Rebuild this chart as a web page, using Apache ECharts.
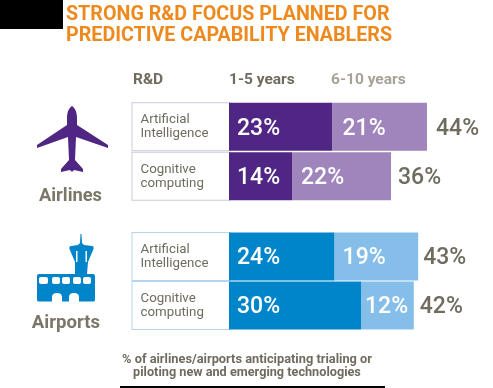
<!DOCTYPE html>
<html>
<head>
<meta charset="utf-8">
<style>
  html, body { margin: 0; padding: 0; background: #fff; }
  #chart { width: 493px; height: 388px; }
</style>
<script src="https://cdn.jsdelivr.net/npm/echarts@6/dist/echarts.min.js"></script>
</head>
<body>
<div id="chart"></div>
<script>
const categories = ['Artificial\nIntelligence', 'Cognitive\ncomputing'];
const airlinesNear = [23, 14];
const airlinesFar = [21, 22];
const airlinesTotal = [44, 36];
const airportsNear = [24, 30];
const airportsFar = [19, 12];
const airportsTotal = [43, 42];

const FONT = 'Roboto';
const TEXT = '#6f6b5f';

const planePath = 'M72 106 C69 108 67 112 67 118 L67 125 L37 145 L37 148 L68 137 L69 160 L61 169 L61 172 L70 170 L72 172 L74 170 L83 172 L83 169 L75 160 L76 137 L108 148 L108 145 L77 125 L77 118 C77 112 75 108 72 106 Z';
const towerPath = 'M80.5 234 L81.5 234 L82 243 L84 245 L92 246 Q94 246 93.5 249 L88 262 L87 274 L93 274 Q95 274 95 276 L95 300 Q95 301.5 93 301.5 L79 301.5 L79 297 Q79 293 74 293 Q69 293 69 297 L69 301.5 L62 301.5 L62 297 Q62 293 57 293 Q52 293 52 297 L52 301.5 L39 301.5 Q37 301.5 37 300 L37 276 Q37 274 39 274 L75 274 L75 262 L69.500 249 Q69 246 71 246 L78 245 L80 243 Z';
const towerWindows = [[39, 277, 9], [52, 277, 8], [62, 277, 8], [73, 277, 8], [83, 277, 8]];

echarts.graphic.registerShape('planeIcon', echarts.graphic.extendPath(planePath, {}));
echarts.graphic.registerShape('towerIcon', echarts.graphic.extendPath(towerPath, {}));

function barSeries(gridIdx, near, far, total, dark, light, farDistances, totalDistances) {
  const inside = { show: true, position: 'insideLeft', offset: [0, 2], color: '#fff', fontFamily: FONT, fontWeight: 500, fontSize: 23, formatter: '{c}%' };
  return [
    {
      type: 'bar', stack: 's' + gridIdx, xAxisIndex: gridIdx, yAxisIndex: gridIdx, barWidth: 48,
      data: near, itemStyle: { color: dark }, label: { ...inside, distance: 8 }
    },
    {
      type: 'bar', stack: 's' + gridIdx, xAxisIndex: gridIdx, yAxisIndex: gridIdx, barWidth: 48,
      data: far.map((v, i) => ({ value: v, label: { distance: farDistances[i] } })),
      itemStyle: { color: light }, label: inside
    },
    {
      // 0 width bar, only there to hold the total label
      type: 'bar', stack: 's' + gridIdx, xAxisIndex: gridIdx, yAxisIndex: gridIdx, barWidth: 48,
      data: total.map((v, i) => ({ value: 0, label: { distance: totalDistances[i] } })),
      itemStyle: { color: 'transparent' },
      label: {
        show: true, position: 'right', offset: [0, 2], color: TEXT, fontFamily: FONT, fontWeight: 500, fontSize: 23,
        formatter: (p) => total[p.dataIndex] + '%'
      }
    }
  ];
}

function catAxis(gridIdx, border) {
  return {
    type: 'category', gridIndex: gridIdx, inverse: true, data: categories,
    axisLine: { show: false }, axisTick: { show: false },
    axisLabel: {
      align: 'left', margin: 96.5, width: 89, height: 46, padding: [1, 0, 0, 8],
      lineHeight: 14, color: TEXT, fontFamily: FONT, fontSize: 13.3,
      borderColor: border, borderWidth: 1, backgroundColor: '#fff', verticalAlign: 'middle'
    }
  };
}

function txt(text, x, y, size, color, weight, align) {
  return { type: 'text', x: x, y: y, style: { text: text, fontFamily: FONT, fontSize: size, fontWeight: weight || 500, fill: color, align: align || 'left', verticalAlign: 'middle' } };
}

const chart = echarts.init(document.getElementById('chart'), null, { renderer: 'canvas' });
chart.setOption({
  animation: false,
  backgroundColor: '#fff',
  grid: [
    { left: 229, top: 102, width: 225, height: 99 },
    { left: 229, top: 232, width: 220, height: 98 }
  ],
  xAxis: [
    { type: 'value', gridIndex: 0, min: 0, max: 50, show: false },
    { type: 'value', gridIndex: 1, min: 0, max: 50, show: false }
  ],
  yAxis: [catAxis(0, '#cfc7de'), catAxis(1, '#b4d6ee')],
  series: [
    ...barSeries(0, airlinesNear, airlinesFar, airlinesTotal, '#4f2683', '#a084bc', [10, 9], [9, 7]),
    ...barSeries(1, airportsNear, airportsFar, airportsTotal, '#0085ca', '#85bfe9', [8, 4], [5, 6])
  ],
  graphic: [
    { type: 'rect', shape: { x: 0, y: 0, width: 63, height: 29 }, style: { fill: '#000' } },
    { type: 'rect', shape: { x: 120, y: 386, width: 265, height: 2 }, style: { fill: '#000' } },
    txt('STRONG R&D FOCUS PLANNED FOR', 66, 15, 19.7, '#ee8a1d', 700),
    txt('PREDICTIVE CAPABILITY ENABLERS', 66, 36, 19.7, '#ee8a1d', 700),
    txt('R&D', 133, 80, 15.5, TEXT, 700),
    txt('1-5 years', 229, 80, 15.5, TEXT, 700),
    txt('6-10 years', 331, 80, 15.5, '#a6a297', 700),
    { type: 'planeIcon', style: { fill: '#4f2683' } },
    txt('Airlines', 70.5, 196, 18.3, '#7b7667', 700, 'center'),
    { type: 'towerIcon', style: { fill: '#0085ca' } },
    ...towerWindows.map((w) => ({
      type: 'rect', shape: { x: w[0], y: w[1], width: w[2], height: 7, r: 2 }, style: { fill: '#fff' }
    })),
    { type: 'rect', shape: { x: 76, y: 251, width: 1.5, height: 11 }, style: { fill: '#fff' } },
    { type: 'rect', shape: { x: 85.5, y: 251, width: 1.5, height: 11 }, style: { fill: '#fff' } },
    txt('Airports', 66, 323, 18.6, '#7b7667', 700, 'center'),
    txt('% of airlines/airports anticipating trialing or', 247, 360, 12.8, TEXT, 700, 'center'),
    txt('piloting new and emerging technologies', 247, 373, 12.7, TEXT, 700, 'center')
  ]
});
</script>
</body>
</html>
